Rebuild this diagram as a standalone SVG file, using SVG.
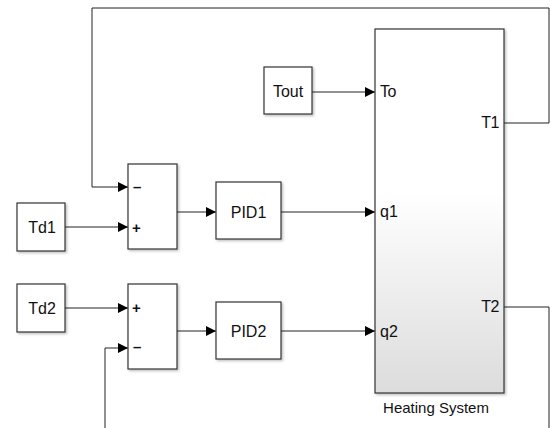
<svg xmlns="http://www.w3.org/2000/svg" width="550" height="428" viewBox="0 0 550 428">
<defs>
<marker id="arr" viewBox="0 0 10 10" refX="10" refY="5" markerWidth="11" markerHeight="10" markerUnits="userSpaceOnUse" orient="auto">
<path d="M0,0 L10,5 L0,10 Z" fill="#000"/>
</marker>
<linearGradient id="hs" x1="0" y1="0" x2="0" y2="1">
<stop offset="0" stop-color="#ffffff"/>
<stop offset="0.45" stop-color="#ffffff"/>
<stop offset="1" stop-color="#dcdcdc"/>
</linearGradient>
<filter id="sh" x="-10%" y="-10%" width="130%" height="130%">
<feDropShadow dx="1.5" dy="1.5" stdDeviation="1" flood-color="#000" flood-opacity="0.25"/>
</filter>
</defs>
<style>
.blk{fill:#fff;stroke:#333;stroke-width:1.2;filter:url(#sh)}
.ln{fill:none;stroke:#222;stroke-width:1}
.t{font-family:"Liberation Sans",Arial,sans-serif;font-size:16px;fill:#111}
.p{font-family:"Liberation Sans",Arial,sans-serif;font-size:16px;fill:#111}
.h{font-family:"Liberation Sans",Arial,sans-serif;font-size:15px;fill:#111}
.s{font-family:"Liberation Sans",Arial,sans-serif;font-size:15px;font-weight:bold;fill:#111}
</style>
<rect width="550" height="428" fill="#fff"/>
<g id="connectors">
<path class="ln" d="M312,92 H375" marker-end="url(#arr)"/>
<path class="ln" d="M65,227 H128" marker-end="url(#arr)"/>
<path class="ln" d="M65,308 H128" marker-end="url(#arr)"/>
<path class="ln" d="M177,212 H216" marker-end="url(#arr)"/>
<path class="ln" d="M177,331 H216" marker-end="url(#arr)"/>
<path class="ln" d="M281,212 H375" marker-end="url(#arr)"/>
<path class="ln" d="M281,331 H375" marker-end="url(#arr)"/>
<path class="ln" d="M504,123 H549 V8 H92 V187 H128" marker-end="url(#arr)"/>
<path class="ln" d="M504,307 H549 V428"/>
<path class="ln" d="M105,428 V348 H128" marker-end="url(#arr)"/>
</g>
<g id="heating-system">
<rect x="375" y="29" width="129" height="364" fill="url(#hs)" stroke="#333" stroke-width="1.2" filter="url(#sh)"/>
<text class="p" x="380" y="97" letter-spacing="-0.5">To</text>
<text class="p" x="380" y="217">q1</text>
<text class="p" x="380" y="337">q2</text>
<text class="p" x="499" y="128" text-anchor="end" letter-spacing="-0.5">T1</text>
<text class="p" x="499" y="312" text-anchor="end" letter-spacing="-0.5">T2</text>
<text class="h" x="436" y="413" text-anchor="middle">Heating System</text>
</g>
<g id="tout">
<rect class="blk" x="264" y="67" width="48" height="47"/>
<text class="t" x="288" y="97" text-anchor="middle">Tout</text>
</g>
<g id="td1">
<rect class="blk" x="17" y="203" width="48" height="48"/>
<text class="t" x="42" y="233" text-anchor="middle">Td1</text>
</g>
<g id="td2">
<rect class="blk" x="17" y="284" width="48" height="48"/>
<text class="t" x="42" y="314" text-anchor="middle">Td2</text>
</g>
<g id="sum1">
<rect class="blk" x="128" y="164" width="49" height="85"/>
<text class="s" x="133" y="192">–</text>
<text class="s" x="132" y="233">+</text>
</g>
<g id="sum2">
<rect class="blk" x="128" y="284" width="49" height="85"/>
<text class="s" x="132" y="313">+</text>
<text class="s" x="133" y="352">–</text>
</g>
<g id="pid1">
<rect class="blk" x="216" y="182" width="65" height="57"/>
<text class="t" x="248.5" y="218" text-anchor="middle">PID1</text>
</g>
<g id="pid2">
<rect class="blk" x="216" y="302" width="65" height="57"/>
<text class="t" x="248.5" y="337" text-anchor="middle">PID2</text>
</g>
</svg>
